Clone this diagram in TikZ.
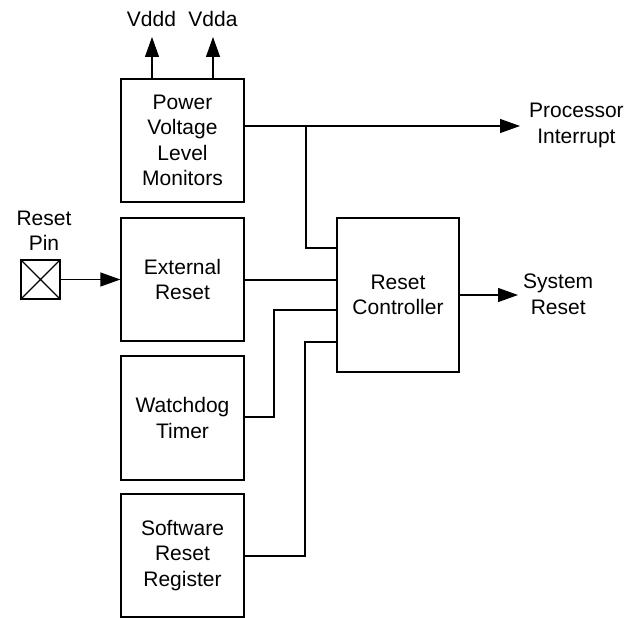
\documentclass[tikz,border=0pt]{standalone}
\usepackage{fontspec}
\setmainfont{Liberation Sans}
\usetikzlibrary{arrows.meta}
\begin{document}
\begin{tikzpicture}[x=1pt,y=-1pt,
  every node/.style={font=\fontsize{21}{25.5}\selectfont, align=center, inner sep=0pt},
  blk/.style={draw, line width=1.3pt, minimum width=123pt, minimum height=123pt},
  wire/.style={line width=1.3pt},
  arr/.style={wire, -{Triangle[length=20pt 0,width=14pt 0]}},
  lbl/.style={}
]
\useasboundingbox (0,0) rectangle (632,618);
% blocks
\node[blk] (pwr) at (182.5,140.5) {Power\\Voltage\\Level\\Monitors};
\node[blk] (ext) at (182.5,279.5) {External\\Reset};
\node[blk, minimum height=124pt] (wdt) at (182.5,418) {Watchdog\\Timer};
\node[blk] (sw) at (182.5,555.5) {Software\\Reset\\Register};
\node[blk, minimum width=122pt, minimum height=154pt] (rc) at (398,295) {Reset\\Controller};
% reset pin
\node[draw, line width=1.3pt, minimum width=39pt, minimum height=39pt] (pin) at (40.5,279.5) {};
\draw[wire] (pin.north west) -- (pin.south east) (pin.north east) -- (pin.south west);
\node[lbl] (pinlbl) at (44,231) {Reset\\Pin};
\draw[arr] (pin.east) -- (pin.east -| ext.west);
% labels
\node[lbl] (vddd) at (151.5,18.5) {Vddd};
\node[lbl] (vdda) at (213,18.5) {Vdda};
\node[lbl, anchor=west] (pint) at (529,125.5) {Processor\\Interrupt};
\node[lbl, anchor=west] (srst) at (523,294.5) {System\\Reset};
% coordinates
\coordinate (vdddb) at (152,79);
\coordinate (vddab) at (213,79);
\coordinate (vdddt) at (152,37);
\coordinate (vddat) at (213,37);
\coordinate (pwrout) at (244,126);
\coordinate (pjn) at (306,126);
\coordinate (rcin1) at (337,248);
\coordinate (wdtout) at (244,417);
\coordinate (wdtj) at (274,417);
\coordinate (rcin3) at (337,310);
\coordinate (swout) at (244,556);
\coordinate (swj) at (305,556);
\coordinate (rcin4) at (337,342);
% connectors
\draw[arr] (vdddb) -- (vdddt);
\draw[arr] (vddab) -- (vddat);
\draw[arr, shorten >=9pt] (pwrout) -- (pwrout -| pint.west);
\draw[wire] (pjn) |- (rcin1);
\draw[wire] (ext.east |- 0,280) -- (rc.west |- 0,280);
\draw[wire] (wdtout) -- (wdtj) |- (rcin3);
\draw[wire] (swout) -- (swj) |- (rcin4);
\draw[arr, shorten >=5pt] (rc.east) -- (rc.east -| srst.west);
\end{tikzpicture}
\end{document}
